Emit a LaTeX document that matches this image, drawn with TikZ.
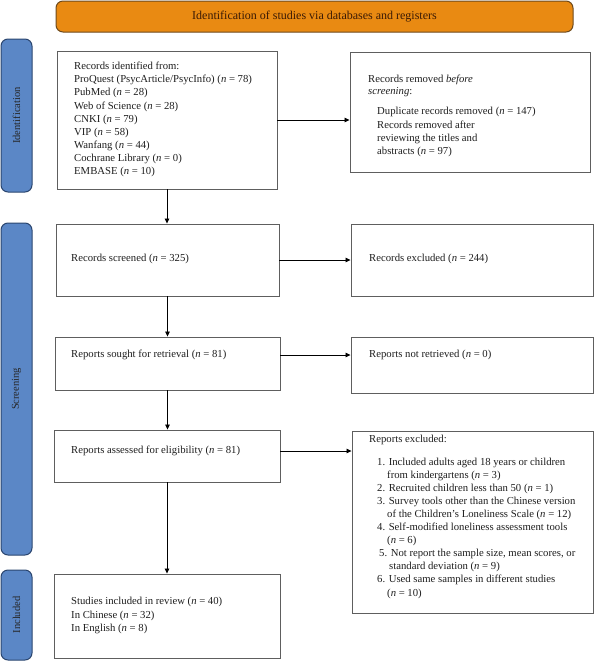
\documentclass[tikz,border=0pt]{standalone}
\usepackage{fontspec}
\setmainfont{Liberation Serif}
\usetikzlibrary{arrows.meta}
\definecolor{orfill}{HTML}{E98A12}
\definecolor{orline}{HTML}{6E4A1C}
\definecolor{barfill}{HTML}{5B87C6}
\definecolor{barline}{HTML}{2B466F}
\definecolor{boxgray}{HTML}{5E5E5E}
\definecolor{hdrtext}{HTML}{3A1A05}
\begin{document}
\begin{tikzpicture}[x=1pt,y=-1pt,
  box/.style={draw=boxgray, line width=0.9pt, fill=white, inner sep=0pt},
  bar/.style={draw=barline, fill=barfill, line width=1pt, rounded corners=7pt, rotate=90, inner sep=0pt, font=\fontsize{10.5}{12}\selectfont, text=black!85},
  hdr/.style={draw=orline, fill=orfill, line width=1pt, rounded corners=7pt, inner sep=0pt, font=\fontsize{12}{14}\selectfont, text=hdrtext},
  txt/.style={anchor=west, inner sep=0pt, align=left, font=\fontsize{10.7}{13.1}\selectfont, text=black!88},
  arr/.style={-{Triangle[length=5pt,width=4.5pt]}, line width=0.8pt, black}]
\useasboundingbox (0,0) rectangle (594,662);

% header and side bars
\node[hdr, minimum width=517pt, minimum height=31pt] (header) at (314.5,16.5) {Identification of studies via databases and registers};
\node[bar, minimum width=153pt, minimum height=31pt] (bar1) at (16.5,115.5) {Identification};
\node[bar, minimum width=332pt, minimum height=31pt] (bar2) at (16.5,389) {Screening};
\node[bar, minimum width=90pt, minimum height=31pt] (bar3) at (16.5,615) {Included};

% boxes
\node[box, minimum width=220pt, minimum height=138pt] (ident) at (167,120) {};
\node[box, minimum width=240pt, minimum height=120pt] (removed) at (470,112) {};
\node[box, minimum width=223pt, minimum height=72pt] (screened) at (167.5,260) {};
\node[box, minimum width=242pt, minimum height=72pt] (excluded) at (472,260) {};
\node[box, minimum width=225pt, minimum height=53pt] (sought) at (167.5,363.5) {};
\node[box, minimum width=242pt, minimum height=56pt] (notretr) at (472,365) {};
\node[box, minimum width=226pt, minimum height=52pt] (assessed) at (167,456) {};
\node[box, minimum width=241pt, minimum height=182pt] (exclbox) at (472.5,522) {};
\node[box, minimum width=226pt, minimum height=84pt] (included) at (167,616) {};

% texts
\node[txt] (identtxt) at (74,119.5) {Records identified from:\\
ProQuest (PsycArticle/PsycInfo) (\textit{n} = 78)\\
PubMed (\textit{n} = 28)\\
Web of Science (\textit{n} = 28)\\
CNKI (\textit{n} = 79)\\
VIP (\textit{n} = 58)\\
Wanfang (\textit{n} = 44)\\
Cochrane Library (\textit{n} = 0)\\
EMBASE (\textit{n} = 10)};
\node[txt, font=\fontsize{10.7}{11.5}\selectfont] (removedhead) at (368,86) {Records removed \textit{before}\\ \textit{screening}:};
\node[txt] (removedlist) at (377,132) {Duplicate records removed (\textit{n} = 147)\\
Records removed after\\
reviewing the titles and\\
abstracts (\textit{n} = 97)};
\node[txt] (screenedtxt) at (71,259) {Records screened (\textit{n} = 325)};
\node[txt] (excludedtxt) at (369,259) {Records excluded (\textit{n} = 244)};
\node[txt] (soughttxt) at (71,355) {Reports sought for retrieval (\textit{n} = 81)};
\node[txt] (notretrtxt) at (369,355) {Reports not retrieved (\textit{n} = 0)};
\node[txt] (assessedtxt) at (71,451) {Reports assessed for eligibility (\textit{n} = 81)};
\node[txt] (exclhead) at (369,440) {Reports excluded:};
\node[txt] (exclist) at (377,528) {1. Included adults aged 18 years or children\\
\hspace*{10pt}from kindergartens (\textit{n} = 3)\\
2. Recruited children less than 50 (\textit{n} = 1)\\
3. Survey tools other than the Chinese version\\
\hspace*{10pt}of the Children’s Loneliness Scale (\textit{n} = 12)\\
4. Self-modified loneliness assessment tools\\
\hspace*{10pt}(\textit{n} = 6)\\
\hspace*{2pt}5. Not report the sample size, mean scores, or\\
\hspace*{12pt}standard deviation (\textit{n} = 9)\\
6. Used same samples in different studies\\
\hspace*{10pt}(\textit{n} = 10)};
\node[txt] (includedtxt) at (71,615.5) {Studies included in review (\textit{n} = 40)\\
In Chinese (\textit{n} = 32)\\
In English (\textit{n} = 8)};

% connectors
\draw[arr] (ident.east) -- (ident.east -| removed.west);
\draw[arr] (ident.south) -- (ident.south |- screened.north);
\draw[arr] (screened.east) -- (screened.east -| excluded.west);
\draw[arr] (screened.south) -- (screened.south |- sought.north);
\draw[arr] (soughttxt -| sought.east) -- (soughttxt -| notretr.west);
\draw[arr] (sought.south) -- (sought.south |- assessed.north);
\draw[arr] (assessedtxt -| assessed.east) -- (assessedtxt -| exclbox.west);
\draw[arr] (assessed.south) -- (assessed.south |- included.north);
\end{tikzpicture}
\end{document}
